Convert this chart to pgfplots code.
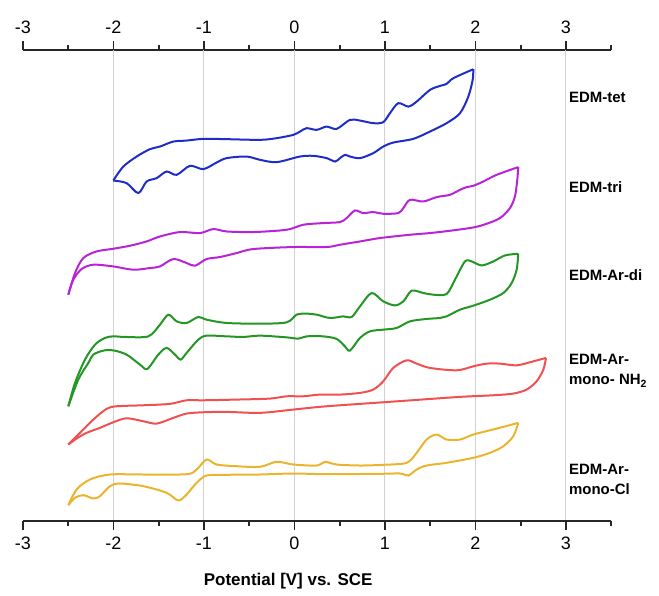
\documentclass[border=0pt]{standalone}
\usepackage{pgfplots}
\pgfplotsset{compat=1.18}
\usepackage{fontspec}
\setmainfont{Liberation Sans}

\definecolor{ctet}{RGB}{30,45,200}
\definecolor{ctri}{RGB}{185,35,215}
\definecolor{cdi}{RGB}{35,150,35}
\definecolor{cnh}{RGB}{240,80,80}
\definecolor{ccl}{RGB}{235,180,45}

\pgfplotsset{
	cvaxis/.style={
		width			= 294.5pt,
		height			= 235.9pt,
		scale only axis,
		xmin = -3, xmax = 3.5,
		ymin = 71.3, ymax = 543,
		axis y line		= none,
		ytick			= \empty,
		xtick			= {-2,...,3},
		xticklabels		= {-2,-1,0,1,2,3},
		extra x ticks	= {-3},
		extra x tick labels = {-3},
		extra x tick style = {grid=none},
		minor xtick		= {-2.5,-1.5,...,3.5},
		tick align		= outside,
		major tick length = 4.5pt,
		minor tick length = 2.5pt,
		axis line style	= {-, line width=1pt, black!85},
		every tick/.style = {line width=0.9pt, black!85},
		ticklabel style	= {font=\fontsize{9}{10}\selectfont},
	},
	cv/.style = {smooth, tension=0.5, line width=1pt, no markers},
}

\begin{document}
\begin{tikzpicture}

	% top axis, labels only
	\begin{axis}[cvaxis, axis x line*=top]
	\end{axis}

	\begin{axis}[
		cvaxis,
		axis x line*	= bottom,
		xmajorgrids,
		grid style		= {gray!35, line width=0.5pt},
		clip			= false,
	]

		% keep the page the size of the reference
		\path (axis cs:-3.254,0) rectangle (axis cs:4.028,593);

		% EDM-tet
		\addplot[cv, color=ctet] coordinates {
			(-2.002,412.3) (-1.891,426.3) (-1.744,436.3) (-1.597,443.7) (-1.486,446.3)
			(-1.339,451.3) (-1.192,452.3) (-1.007,454) (-0.750,453.7) (-0.381,453)
			(-0.197,454.7) (-0.013,458) (0.061,461.3) (0.134,464.7) (0.245,463)
			(0.355,466.3) (0.466,464) (0.613,473) (0.724,472.3) (0.871,469.7)
			(0.981,470.7) (1.055,479.7) (1.147,489.7) (1.258,486.3) (1.350,491.3)
			(1.497,503) (1.608,507) (1.681,509) (1.755,514.7) (1.976,523.7)
		};
		\addplot[cv, color=ctet] coordinates {
			(1.976,523.7) (1.969,513) (1.921,496.3) (1.829,479.7) (1.681,469.7)
			(1.497,461.3) (1.313,454) (1.092,450.3) (0.981,446.3) (0.871,439.7)
			(0.724,434.7) (0.613,436.3) (0.558,438) (0.503,434.7) (0.448,431.3)
			(0.355,434.7) (0.208,437) (0.061,436.3) (-0.197,430.7) (-0.381,433)
			(-0.529,436.3) (-0.750,434.7) (-0.860,430.3) (-1.007,423.7) (-1.155,427)
			(-1.302,418) (-1.413,421.3) (-1.523,414.7) (-1.634,411.3) (-1.726,399.7)
			(-1.855,409.7) (-2.002,412.3)
		};

		% EDM-tri
		\addplot[cv, color=ctri] coordinates {
			(-2.499,298) (-2.425,319.7) (-2.333,334.7) (-2.186,341.3) (-2.002,344)
			(-1.818,347) (-1.634,351.3) (-1.486,356.3) (-1.265,360.7) (-1.044,359.7)
			(-0.897,363.7) (-0.750,361.3) (-0.455,360.7) (-0.087,363) (0.097,368)
			(0.318,369.7) (0.503,370.7) (0.576,374.7) (0.668,382.3) (0.760,379.7)
			(0.871,380.7) (0.981,379) (1.147,379.7) (1.203,384.7) (1.276,393)
			(1.423,391.3) (1.571,395.7) (1.718,398) (1.829,403) (1.903,405.7)
			(1.976,407) (2.086,411.3) (2.234,418) (2.473,425.7)
		};
		\addplot[cv, color=ctri] coordinates {
			(2.473,425.7) (2.462,413) (2.436,396.3) (2.381,384.7) (2.271,374.7)
			(2.124,369) (1.976,365.3) (1.718,362) (1.497,359.7) (1.276,358)
			(0.945,354.7) (0.724,351.3) (0.503,348) (0.355,345.7) (-0.013,345.7)
			(-0.455,343.7) (-0.639,339.7) (-0.823,335.7) (-0.971,333.7) (-1.099,327)
			(-1.192,329.7) (-1.339,333.7) (-1.486,326.3) (-1.597,324.7) (-1.781,323)
			(-2.002,326.3) (-2.223,328) (-2.352,323.7) (-2.444,313) (-2.499,298)
		};

		% EDM-Ar-di
		\addplot[cv, color=cdi] coordinates {
			(-2.499,186.3) (-2.425,209.7) (-2.315,233) (-2.204,248) (-2.094,254.7)
			(-2.002,256.3) (-1.873,255.7) (-1.615,256.3) (-1.486,268) (-1.394,278)
			(-1.302,271.3) (-1.192,269.7) (-1.063,275.7) (-0.971,273) (-0.750,269.7)
			(-0.381,269) (-0.087,270.3) (0.024,278) (0.134,279) (0.245,278)
			(0.392,274.7) (0.540,276.3) (0.632,275.7) (0.724,286.3) (0.853,299.7)
			(0.981,291.3) (1.110,287.3) (1.203,291.3) (1.295,302) (1.423,299.7)
			(1.534,298) (1.681,298.7) (1.773,313) (1.884,331.3) (1.958,331.3)
			(2.068,327.3) (2.197,331.3) (2.326,337.3) (2.473,339)
		};
		\addplot[cv, color=cdi] coordinates {
			(2.473,339) (2.455,323) (2.400,309.7) (2.308,299.7) (2.160,293)
			(1.976,287) (1.829,283) (1.681,276.3) (1.608,274.7) (1.460,273.7)
			(1.276,271.3) (1.129,264.7) (0.981,263) (0.834,261.3) (0.724,254.7)
			(0.613,242) (0.558,246.3) (0.466,253.7) (0.318,256.3) (0.134,256.3)
			(0.042,254) (-0.087,255.3) (-0.381,257) (-0.565,255.7) (-0.750,256.3)
			(-0.971,257) (-1.063,253) (-1.192,239.7) (-1.258,233) (-1.320,238)
			(-1.413,244.7) (-1.505,238) (-1.626,223.7) (-1.707,228) (-1.855,238)
			(-2.002,242.3) (-2.112,242) (-2.223,238) (-2.278,229.7) (-2.389,213)
			(-2.499,186.3)
		};

		% EDM-Ar-mono-NH2
		\addplot[cv, color=cnh] coordinates {
			(-2.499,148) (-2.370,159.7) (-2.223,173) (-2.076,183.7) (-1.965,186.3)
			(-1.670,187.3) (-1.376,188.7) (-1.192,192.3) (-1.007,192.3) (-0.639,193)
			(-0.271,194) (-0.087,196.3) (0.097,196.3) (0.282,198) (0.503,198)
			(0.724,199.7) (0.871,203) (0.981,211.3) (1.092,224.7) (1.239,232.3)
			(1.350,229) (1.497,224.7) (1.792,222.3) (1.976,226.3) (2.123,229)
			(2.271,229) (2.455,227.3) (2.639,231.3) (2.779,234.7)
		};
		\addplot[cv, color=cnh] coordinates {
			(2.779,234.7) (2.750,223) (2.676,211.3) (2.565,203) (2.418,199)
			(2.197,197.3) (1.829,195.7) (1.092,191) (0.355,186.3) (-0.013,183)
			(-0.381,179.7) (-0.750,180.7) (-1.007,180.3) (-1.192,179) (-1.339,174.7)
			(-1.523,169) (-1.670,171.3) (-1.855,174.3) (-2.002,170.3) (-2.149,164.7)
			(-2.297,159.7) (-2.407,154) (-2.499,148)
		};

		% EDM-Ar-mono-Cl
		\addplot[cv, color=ccl] coordinates {
			(-2.499,87.3) (-2.407,103) (-2.260,113) (-2.039,118) (-1.670,118)
			(-1.192,118.3) (-1.081,123) (-0.971,133) (-0.860,128) (-0.639,126.3)
			(-0.381,125.7) (-0.197,130.7) (-0.013,128) (0.245,127) (0.337,130.7)
			(0.466,128) (0.724,127) (0.981,127.7) (1.239,129.7) (1.350,139.7)
			(1.460,153) (1.571,158) (1.681,153) (1.829,153) (1.976,158)
			(2.160,162.3) (2.308,165.7) (2.473,169.7)
		};
		\addplot[cv, color=ccl] coordinates {
			(2.473,169.7) (2.418,156.3) (2.308,146.3) (2.160,139.7) (1.976,134.7)
			(1.681,129.7) (1.460,127) (1.350,123) (1.258,117) (1.166,119)
			(0.945,118.7) (0.355,118.3) (-0.013,119) (-0.381,118) (-0.750,117.7)
			(-0.971,117) (-1.081,109.7) (-1.192,98) (-1.284,92) (-1.413,99.7)
			(-1.670,106.3) (-1.928,109) (-2.039,106.3) (-2.149,96.3) (-2.223,94)
			(-2.333,97.3) (-2.425,94.7) (-2.499,87.3)
		};

		% series names
		\begin{scope}[every node/.style={anchor=west, align=left, inner sep=0pt,
				font=\bfseries\fontsize{7.5}{10}\selectfont}]
			\node at (axis cs:3.03,495) {EDM-tet};
			\node at (axis cs:3.03,406) {EDM-tri};
			\node at (axis cs:3.03,318) {EDM-Ar-di};
			\node at (axis cs:3.03,222) {EDM-Ar-\\mono- NH\textsubscript{2}};
			\node at (axis cs:3.03,113) {EDM-Ar-\\mono-Cl};
		\end{scope}

		\node[font=\bfseries\fontsize{8.5}{10}\selectfont, yshift=-30pt]
			at (axis cs:-0.07,71.3) {Potential [V] vs. SCE};

	\end{axis}

\end{tikzpicture}
\end{document}
